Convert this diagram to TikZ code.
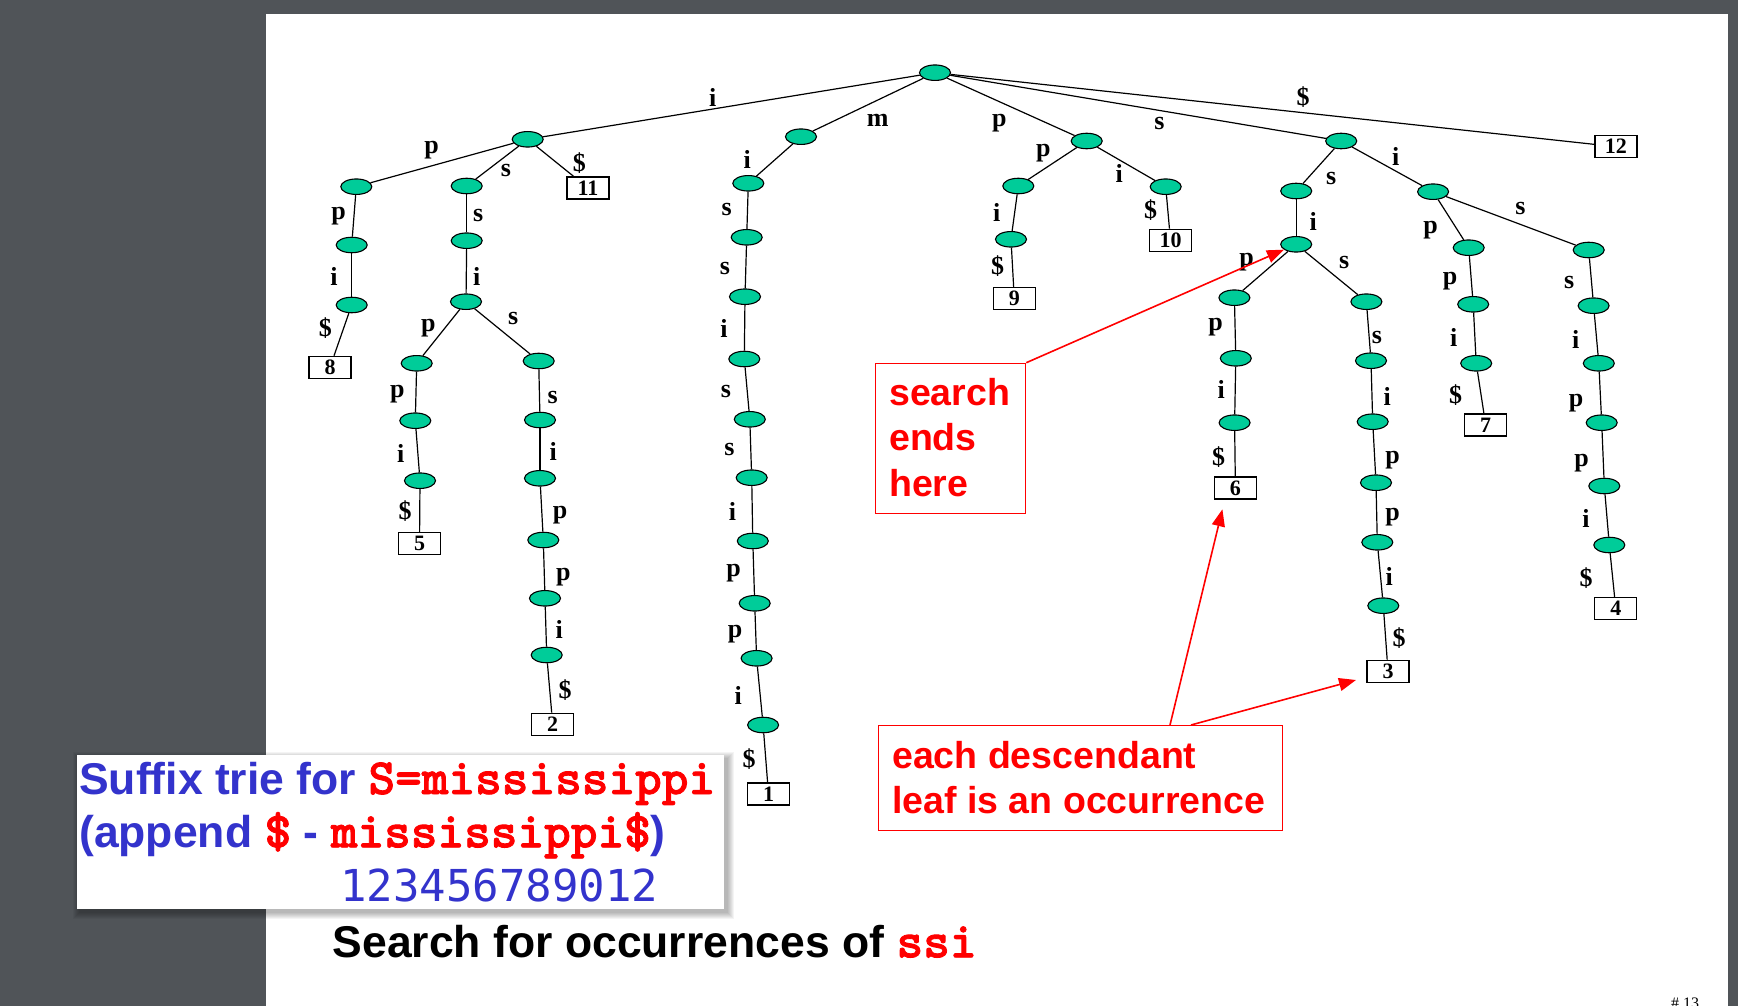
\documentclass[tikz,border=0pt]{standalone}
\usepackage{fontspec}
\setmainfont{Liberation Serif}
\newfontfamily\hv{Liberation Sans}
\newfontfamily\cour{lmmonolt10-bold.otf}[AutoFakeBold=1.6]
\newfontfamily\dvm{DejaVu Sans Mono}
\usetikzlibrary{shapes.geometric,arrows.meta}
\definecolor{pagebg}{RGB}{80,84,88}
\definecolor{nodegreen}{RGB}{0,204,153}
\definecolor{tblue}{RGB}{51,51,204}
\definecolor{tred}{RGB}{255,0,0}
\tikzset{
 tn/.style={ellipse, draw=black, line width=1.1pt, fill=nodegreen, minimum width=31pt, minimum height=15.5pt, inner sep=0pt},
 leafbox/.style={draw=black, line width=1.2pt, fill=white, minimum width=42pt, minimum height=22pt, inner sep=0pt, font=\fontsize{22}{22}\selectfont\bfseries},
 edge/.style={draw=black, line width=1.2pt},
 lab/.style={inner sep=0pt, font=\fontsize{26}{26}\selectfont\bfseries},
 redbox/.style={draw=tred, line width=1.3pt, inner sep=0pt},
 redtext/.style={anchor=base west, inner sep=0pt, text=tred, font=\hv\bfseries\fontsize{37.5}{37.5}\selectfont},
 redarrow/.style={draw=tred, line width=1.6pt, -{Triangle[length=17pt,width=13pt]}},
 bigtext/.style={anchor=base west, inner sep=0pt, font=\hv\bfseries\fontsize{44.5}{44.5}\selectfont},
}
\newcommand{\E}[4]{\draw[edge] (#1) -- (#2); \node[lab] (L-#2) at (#3) {#4};}
\newcommand{\ct}[1]{{\cour\bfseries\fontsize{50.8}{50.8}\selectfont\color{tred}#1}}
\begin{document}
\begin{tikzpicture}[x=1pt,y=-1pt]
\useasboundingbox (0,0) rectangle (1738,1006);
\clip (0,0) rectangle (1738,1006);
\fill[pagebg] (0,0) rectangle (1738,1006);
\fill[white] (266,14) rectangle (1728,1010);

% ---------- tree nodes ----------
\node[tn] (R) at (935,72.7) {};
% i-branch
\node[tn] (A) at (527.7,139.3) {};
\node[tn] (Ap) at (356.3,186.7) {};
\node[tn] (App) at (351.7,245) {};
\node[tn] (Appi) at (351.7,305) {};
\node[leafbox] (b8) at (330,367.3) {8};
\node[tn] (As) at (466.7,186) {};
\node[tn] (Ass) at (466.7,240.7) {};
\node[tn] (Assi) at (466,301.7) {};
\node[tn] (Assip) at (416.7,363.3) {};
\node[tn] (Assipp) at (415.3,420.7) {};
\node[tn] (Assippi) at (420,480.7) {};
\node[leafbox] (b5) at (419.5,543.7) {5};
\node[tn] (Assis) at (538.7,361) {};
\node[tn] (Assiss) at (540,420) {};
\node[tn] (Assissi) at (540,478.3) {};
\node[tn] (Assissip) at (543.3,540) {};
\node[tn] (Assissipp) at (545,598.3) {};
\node[tn] (Assissippi) at (546.7,655) {};
\node[leafbox] (b2) at (552.7,724.2) {2};
\node[leafbox] (b11) at (588,188) {11};
% m-branch
\node[tn] (M) at (801,136.7) {};
\node[tn] (M1) at (748.3,183.3) {};
\node[tn] (M2) at (746.7,237.3) {};
\node[tn] (M3) at (745,296.7) {};
\node[tn] (M4) at (744.3,359) {};
\node[tn] (M5) at (749.8,419.3) {};
\node[tn] (M6) at (751.7,477.7) {};
\node[tn] (M7) at (752.8,541) {};
\node[tn] (M8) at (754.7,603.3) {};
\node[tn] (M9) at (756.6,658.3) {};
\node[tn] (M10) at (763.1,725) {};
\node[leafbox] (b1) at (768.5,794) {1};
% p-branch
\node[tn] (P) at (1086.7,141) {};
\node[tn] (Pp) at (1018.3,186) {};
\node[tn] (Ppi) at (1011,239.3) {};
\node[leafbox] (b9) at (1014.3,298.7) {9};
\node[tn] (Pi) at (1165.7,186.7) {};
\node[leafbox] (b10) at (1170.5,240.3) {10};
% s-branch
\node[tn] (S) at (1341.2,141) {};
\node[tn] (Ss) at (1296.2,191) {};
\node[tn] (Ssi) at (1296.2,244.3) {};
\node[tn] (Ssip) at (1234.4,297.7) {};
\node[tn] (Ssipp) at (1235.8,358.3) {};
\node[tn] (Ssippi) at (1234.6,422.7) {};
\node[leafbox] (b6) at (1235.4,488) {6};
\node[tn] (Ssis) at (1366.4,301.7) {};
\node[tn] (Ssiss) at (1371,360.7) {};
\node[tn] (Ssissi) at (1372.7,421.7) {};
\node[tn] (Ssissip) at (1376,482.7) {};
\node[tn] (Ssissipp) at (1377.3,542.3) {};
\node[tn] (Ssissippi) at (1383.3,605.7) {};
\node[leafbox] (b3) at (1388,671.3) {3};
\node[tn] (Si) at (1433.1,191.7) {};
\node[tn] (Sip) at (1468.7,247.7) {};
\node[tn] (Sipp) at (1473.2,304.3) {};
\node[tn] (Sippi) at (1476.2,363.3) {};
\node[leafbox] (b7) at (1485.7,425) {7};
\node[tn] (Sis) at (1588.7,250) {};
\node[tn] (Siss) at (1593.6,305.7) {};
\node[tn] (Sissi) at (1598.8,363.3) {};
\node[tn] (Sissip) at (1601.7,422.7) {};
\node[tn] (Sissipp) at (1604.3,486) {};
\node[tn] (Sissippi) at (1609.3,545) {};
\node[leafbox] (b4) at (1615.8,608.7) {4};
\node[leafbox] (b12) at (1615.9,146.7) {12};

% ---------- edges with labels ----------
\E{R}{A}{712.7,97.3}{i}
\E{R}{M}{877.7,120}{m}
\E{R}{P}{999.3,122.7}{p}
\E{R}{S}{1159.4,124}{s}
\E{R}{b12}{1303,96.7}{\$}
\E{A}{Ap}{431.7,150}{p}
\E{A}{As}{506,170.7}{s}
\E{A}{b11}{579.3,162.7}{\$}
\E{Ap}{App}{338.7,216}{p}
\E{App}{Appi}{334,276.7}{i}
\E{Appi}{b8}{325.3,328.3}{\$}
\E{As}{Ass}{478.3,216}{s}
\E{Ass}{Assi}{476.7,276.7}{i}
\E{Assi}{Assip}{428.3,328.3}{p}
\E{Assi}{Assis}{513.3,318.3}{s}
\E{Assip}{Assipp}{397.3,394}{p}
\E{Assipp}{Assippi}{400.7,453.3}{i}
\E{Assippi}{b5}{405,511}{\$}
\E{Assis}{Assiss}{552.7,397.3}{s}
\E{Assiss}{Assissi}{553.3,451.7}{i}
\E{Assissi}{Assissip}{560,515}{p}
\E{Assissip}{Assissipp}{563.3,576.7}{p}
\E{Assissipp}{Assissippi}{559.3,629.3}{i}
\E{Assissippi}{b2}{565,690}{\$}
\E{M}{M1}{747.3,159.3}{i}
\E{M1}{M2}{726.7,209.3}{s}
\E{M2}{M3}{725,268.3}{s}
\E{M3}{M4}{724,328.3}{i}
\E{M4}{M5}{726,391.7}{s}
\E{M5}{M6}{729.5,449.3}{s}
\E{M6}{M7}{732.5,511}{i}
\E{M7}{M8}{733.7,573.3}{p}
\E{M8}{M9}{735.2,634}{p}
\E{M9}{M10}{738.3,695}{i}
\E{M10}{b1}{749,759.3}{\$}
\E{P}{Pp}{1043.3,153.3}{p}
\E{P}{Pi}{1119.3,173.3}{i}
\E{Pp}{Ppi}{996.7,212.7}{i}
\E{Ppi}{b9}{997.7,265.7}{\$}
\E{Pi}{b10}{1150.7,210}{\$}
\E{S}{Ss}{1331.1,179}{s}
\E{S}{Si}{1395.6,156.7}{i}
\E{Ss}{Ssi}{1313.1,221.7}{i}
\E{Ssi}{Ssip}{1246.7,262.3}{p}
\E{Ssi}{Ssis}{1344.2,262.3}{s}
\E{Ssip}{Ssipp}{1215.6,327.3}{p}
\E{Ssipp}{Ssippi}{1221.2,389.3}{i}
\E{Ssippi}{b6}{1218.6,456.7}{\$}
\E{Ssis}{Ssiss}{1376.9,337.3}{s}
\E{Ssiss}{Ssissi}{1387.3,396}{i}
\E{Ssissi}{Ssissip}{1392.7,460}{p}
\E{Ssissip}{Ssissipp}{1392.7,516.7}{p}
\E{Ssissipp}{Ssissippi}{1389.3,576}{i}
\E{Ssissippi}{b3}{1399,638.3}{\$}
\E{Si}{Sip}{1430.5,230}{p}
\E{Si}{Sis}{1520.5,208.3}{s}
\E{Sip}{Sipp}{1450,280.7}{p}
\E{Sipp}{Sippi}{1453.7,337.3}{i}
\E{Sippi}{b7}{1455.7,395}{\$}
\E{Sis}{Siss}{1569.2,282.7}{s}
\E{Siss}{Sissi}{1575.6,339.3}{i}
\E{Sissi}{Sissip}{1576,402.7}{p}
\E{Sissip}{Sissipp}{1581.7,462.7}{p}
\E{Sissipp}{Sissippi}{1586,518.3}{i}
\E{Sissippi}{b4}{1586,577.7}{\$}

% ---------- red annotations ----------
\node[redbox, anchor=north west, minimum width=150pt, minimum height=150pt] (sbox) at (875,362.7) {};
\node[redtext] (sL1) at (889,405) {search};
\node[redtext] (sL2) at (889,450.5) {ends};
\node[redtext] (sL3) at (889,496) {here};
\draw[redarrow] (sbox.north east) -- (Ssi);

\node[redbox, anchor=north west, minimum width=404pt, minimum height=105pt] (ebox) at (878,725) {};
\node[redtext] (eL1) at (892,768.3) {each descendant};
\node[redtext] (eL2) at (892,813.3) {leaf is an occurrence};
\coordinate (a6s) at (1170,725);
\coordinate (a6t) at (1222.4,509.3);
\coordinate (a3s) at (1191,725);
\coordinate (a3t) at (1356,680);
\draw[redarrow] (a6s) -- (a6t);
\draw[redarrow] (a3s) -- (a3t);

% ---------- title box ----------
\foreach \r in {1,...,7}{
  \fill[black, opacity=0.045] (77+3-\r,755+4-\r) rectangle (723.5+3+\r,908.3+4+\r);
}
\node[fill=white, anchor=north west, inner sep=0pt, minimum width=646.5pt, minimum height=153.3pt] (tbox) at (77,755) {};
\node[bigtext, text=tblue] (t1) at (79,794) {Suffix trie for \ct{S=mississippi}};
\node[bigtext, text=tblue] (t2) at (79,847.3) {(append \ct{\$} - \ct{mississippi\$})};
\node[anchor=base west, inner sep=0pt, text=tblue, font=\dvm\fontsize{44}{44}\selectfont] (t3) at (340,901.7) {123456789012};

\node[bigtext, text=black] (t4) at (332.5,957.3) {Search for occurrences of \ct{ssi}};

\node[anchor=north west, inner sep=0pt, font=\fontsize{16}{16}\selectfont] (pg) at (1671,997.5) {\# 13};
\end{tikzpicture}
\end{document}
